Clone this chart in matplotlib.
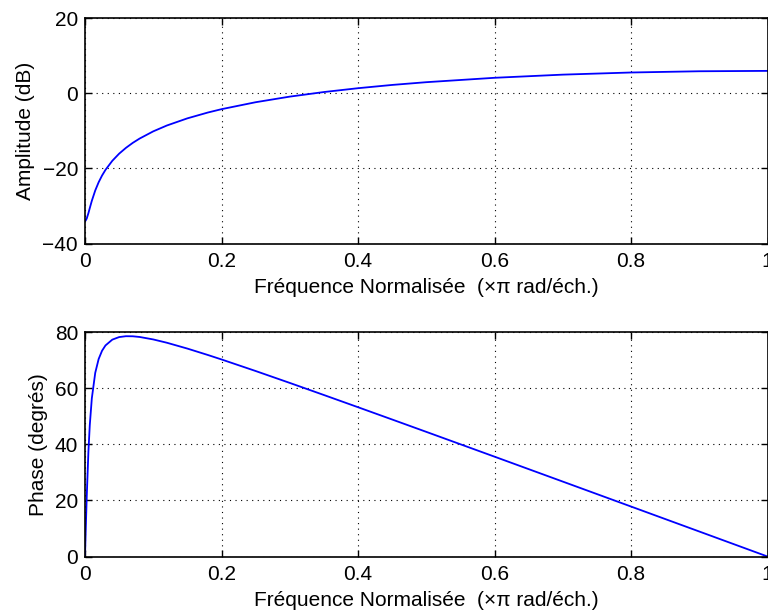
import numpy as np
import matplotlib
matplotlib.use("Agg")
import matplotlib.pyplot as plt

plt.rcParams['font.family'] = ['Liberation Sans', 'DejaVu Sans']
plt.rcParams['font.size'] = 15

# normalised frequency (x pi rad/sample)
freq = [0, 0.001, 0.0025, 0.005, 0.007, 0.01, 0.015, 0.02, 0.025, 0.03, 0.04,
        0.05, 0.06, 0.07, 0.08, 0.1, 0.12, 0.15, 0.18, 0.2, 0.25, 0.3, 0.35,
        0.4, 0.45, 0.5, 0.6, 0.7, 0.8, 0.9, 1.0]
# magnitude (dB)
amp = [-33.98, -33.88, -33.37, -31.93, -30.58, -28.64, -25.89, -23.70, -21.91,
       -20.41, -18.00, -16.10, -14.55, -13.22, -12.08, -10.16, -8.60, -6.70,
       -5.15, -4.26, -2.41, -0.92, 0.30, 1.32, 2.19, 2.92, 4.09, 4.93, 5.50,
       5.83, 5.93]
# phase (degrees)
phase = [0, 8.75, 21.02, 37.4, 46.80, 56.36, 65.45, 70.38, 73.33, 75.21, 77.28,
         78.19, 78.50, 78.47, 78.23, 77.35, 76.17, 74.09, 71.81, 70.22, 66.10,
         61.86, 57.55, 53.20, 48.82, 44.42, 35.58, 26.70, 17.81, 8.91, 0]

xlab = u"Fréquence Normalisée  (×π rad/éch.)"

fig = plt.figure(figsize=(7.68, 6.14), dpi=100)
W, H = 768.0, 614.0
ax1 = fig.add_axes([85 / W, 1 - 243.5 / H, 682.5 / W, 225.5 / H])
ax2 = fig.add_axes([85 / W, 1 - 556.5 / H, 682.5 / W, 224.5 / H])

for ax, y, ylab, yl, yt in [(ax1, amp, "Amplitude (dB)", (-40, 20), [-40, -20, 0, 20]),
                            (ax2, phase, u"Phase (degrés)", (0, 80), [0, 20, 40, 60, 80])]:
    ax.plot(freq, y, color="blue", lw=1.3)
    ax.set_xlim(0, 1)
    ax.set_ylim(*yl)
    ax.set_yticks(yt)
    ax.set_xticks([0, 0.2, 0.4, 0.6, 0.8, 1])
    ax.set_xticklabels(["0", "0.2", "0.4", "0.6", "0.8", "1"])
    ax.grid(True, color="black", linestyle=(0, (1, 4)), linewidth=0.8)
    ax.tick_params(direction="in", top=True, right=True, length=5, width=1, pad=5)
    ax.tick_params(axis="x", pad=6)
    for s in ax.spines.values():
        s.set_linewidth(1.2)
    ax.set_xlabel(xlab, labelpad=5)
    ax.set_ylabel(ylab, labelpad=5)

fig.savefig("out.png", dpi=100)
